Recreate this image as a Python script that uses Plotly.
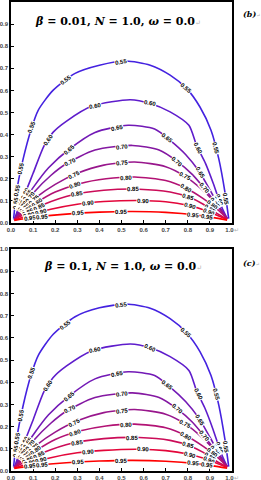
import math
import plotly.graph_objects as go

# ---------------- data ----------------
levels = [0.55, 0.60, 0.65, 0.70, 0.75, 0.80, 0.85, 0.90, 0.95]
level_text = ["0.55", "0.60", "0.65", "0.70", "0.75", "0.80", "0.85", "0.90", "0.95"]
tick_vals = [0.0, 0.1, 0.2, 0.3, 0.4, 0.5, 0.6, 0.7, 0.8, 0.9, 1.0]
tick_text = ["0.0", "0.1", "0.2", "0.3", "0.4", "0.5", "0.6", "0.7", "0.8", "0.9", "1.0"]
panel_titles = ["<i>β</i> = 0.01, <i>N</i> = 1.0, <i>ω</i> = 0.0",
                "<i>β</i> = 0.1, <i>N</i> = 1.0, <i>ω</i> = 0.0"]
panel_tags = ["(b)", "(c)"]

# panel (b): beta = 0.01
b55_x = [0.012, 0.025, 0.055, 0.09, 0.123, 0.19, 0.29, 0.40, 0.52, 0.63, 0.72, 0.795, 0.855, 0.905, 0.94, 0.968, 0.985]
b55_y = [0.02, 0.14, 0.29, 0.42, 0.51, 0.60, 0.677, 0.714, 0.733, 0.714, 0.669, 0.608, 0.525, 0.42, 0.291, 0.14, 0.02]
b60_x = [0.015, 0.04, 0.07, 0.10, 0.15, 0.19, 0.25, 0.37, 0.54, 0.63, 0.72, 0.805, 0.84, 0.88, 0.915, 0.95, 0.978]
b60_y = [0.015, 0.085, 0.15, 0.225, 0.35, 0.41, 0.46, 0.53, 0.558, 0.541, 0.503, 0.442, 0.35, 0.27, 0.18, 0.08, 0.02]
b65_x = [0.015, 0.05, 0.10, 0.17, 0.266, 0.38, 0.53, 0.65, 0.72, 0.79, 0.85, 0.90, 0.945, 0.978]
b65_y = [0.015, 0.085, 0.16, 0.25, 0.336, 0.41, 0.442, 0.425, 0.374, 0.31, 0.235, 0.15, 0.07, 0.02]
b70_x = [0.015, 0.05, 0.10, 0.18, 0.25, 0.38, 0.55, 0.67, 0.75, 0.82, 0.88, 0.93, 0.96, 0.978]
b70_y = [0.015, 0.07, 0.135, 0.215, 0.268, 0.33, 0.351, 0.33, 0.28, 0.22, 0.15, 0.085, 0.045, 0.02]
b75_x = [0.015, 0.06, 0.12, 0.20, 0.30, 0.42, 0.56, 0.70, 0.79, 0.86, 0.92, 0.955, 0.978]
b75_y = [0.015, 0.065, 0.12, 0.175, 0.225, 0.262, 0.276, 0.255, 0.21, 0.155, 0.095, 0.05, 0.02]
b80_x = [0.015, 0.06, 0.12, 0.20, 0.31, 0.43, 0.56, 0.70, 0.79, 0.87, 0.93, 0.96, 0.978]
b80_y = [0.015, 0.052, 0.095, 0.14, 0.178, 0.20, 0.208, 0.192, 0.158, 0.11, 0.065, 0.038, 0.02]
b85_x = [0.015, 0.07, 0.15, 0.28, 0.42, 0.58, 0.72, 0.81, 0.87, 0.93, 0.978]
b85_y = [0.015, 0.045, 0.085, 0.128, 0.148, 0.153, 0.14, 0.115, 0.085, 0.045, 0.018]
b90_x = [0.015, 0.08, 0.18, 0.30, 0.42, 0.58, 0.70, 0.80, 0.88, 0.94, 0.978]
b90_y = [0.013, 0.035, 0.062, 0.085, 0.097, 0.102, 0.096, 0.08, 0.057, 0.032, 0.016]
b95_x = [0.015, 0.10, 0.25, 0.40, 0.55, 0.70, 0.84, 0.93, 0.978]
b95_y = [0.012, 0.025, 0.04, 0.049, 0.052, 0.048, 0.036, 0.022, 0.013]

# panel (c): beta = 0.1
c55_x = [0.012, 0.025, 0.055, 0.09, 0.123, 0.19, 0.29, 0.40, 0.52, 0.63, 0.72, 0.795, 0.855, 0.905, 0.94, 0.968, 0.985]
c55_y = [0.02, 0.14, 0.295, 0.43, 0.52, 0.615, 0.695, 0.735, 0.752, 0.733, 0.686, 0.622, 0.538, 0.43, 0.298, 0.142, 0.02]
c60_x = [0.015, 0.04, 0.07, 0.10, 0.15, 0.19, 0.25, 0.37, 0.54, 0.63, 0.72, 0.805, 0.84, 0.88, 0.915, 0.95, 0.978]
c60_y = [0.015, 0.087, 0.154, 0.23, 0.36, 0.42, 0.472, 0.543, 0.572, 0.555, 0.515, 0.453, 0.36, 0.277, 0.185, 0.082, 0.02]
c65_x = [0.015, 0.05, 0.10, 0.17, 0.266, 0.38, 0.53, 0.65, 0.72, 0.79, 0.85, 0.90, 0.945, 0.978]
c65_y = [0.015, 0.086, 0.162, 0.253, 0.34, 0.415, 0.447, 0.43, 0.378, 0.313, 0.238, 0.152, 0.071, 0.02]
c70_x = [0.015, 0.05, 0.10, 0.18, 0.25, 0.38, 0.55, 0.67, 0.75, 0.82, 0.88, 0.93, 0.96, 0.978]
c70_y = [0.015, 0.07, 0.135, 0.215, 0.269, 0.331, 0.352, 0.331, 0.281, 0.221, 0.15, 0.085, 0.045, 0.02]
c75_x = [0.015, 0.06, 0.12, 0.20, 0.30, 0.42, 0.56, 0.70, 0.79, 0.86, 0.92, 0.955, 0.978]
c75_y = [0.015, 0.065, 0.12, 0.175, 0.226, 0.263, 0.277, 0.256, 0.211, 0.155, 0.095, 0.05, 0.02]
c80_x = [0.015, 0.06, 0.12, 0.20, 0.31, 0.43, 0.56, 0.70, 0.79, 0.87, 0.93, 0.96, 0.978]
c80_y = [0.015, 0.053, 0.096, 0.142, 0.18, 0.203, 0.211, 0.195, 0.16, 0.111, 0.066, 0.038, 0.02]
c85_x = [0.015, 0.07, 0.15, 0.28, 0.42, 0.58, 0.72, 0.81, 0.87, 0.93, 0.978]
c85_y = [0.015, 0.045, 0.084, 0.126, 0.146, 0.151, 0.138, 0.113, 0.084, 0.044, 0.018]
c90_x = [0.015, 0.08, 0.18, 0.30, 0.42, 0.58, 0.70, 0.80, 0.88, 0.94, 0.978]
c90_y = [0.013, 0.034, 0.06, 0.082, 0.093, 0.098, 0.092, 0.077, 0.055, 0.031, 0.016]
c95_x = [0.015, 0.10, 0.25, 0.40, 0.55, 0.70, 0.84, 0.93, 0.978]
c95_y = [0.012, 0.023, 0.037, 0.045, 0.048, 0.044, 0.033, 0.021, 0.012]

# ---------------- styles ----------------
line_colors = ["#4422e0", "#5e1ccc", "#7219b6", "#8418a2", "#98168c", "#b21274", "#cb0c58",
               "#e3063a", "#ff0000"]
label_fracs = [
    [0.12, 0.22, 0.36, 0.5, 0.67, 0.83],
    [0.25, 0.42, 0.58, 0.78],
    [0.3, 0.48, 0.66, 0.82],
    [0.3, 0.5, 0.72, 0.86],
    [0.3, 0.5, 0.76],
    [0.3, 0.52, 0.78],
    [0.3, 0.55, 0.8],
    [0.35, 0.6, 0.82],
    [0.3, 0.5, 0.84],
]
corner_px_left = [16, 28]
corner_px_right = [20]

W, H = 261, 480
ML, MR, MT, MB = 11, 29, 2, 9
PW, PH = W - ML - MR, H - MT - MB
panels_px = [(2, 223), (249, 471)]


def pdom(top, bot):
    return [(H - MB - bot) / PH, (H - MB - top) / PH]


curves = [
    [(b55_x, b55_y), (b60_x, b60_y), (b65_x, b65_y), (b70_x, b70_y), (b75_x, b75_y),
     (b80_x, b80_y), (b85_x, b85_y), (b90_x, b90_y), (b95_x, b95_y)],
    [(c55_x, c55_y), (c60_x, c60_y), (c65_x, c65_y), (c70_x, c70_y), (c75_x, c75_y),
     (c80_x, c80_y), (c85_x, c85_y), (c90_x, c90_y), (c95_x, c95_y)],
]

fig = go.Figure()
annotations = []


def point_at(xs, ys, dist, sx, sy):
    acc = 0.0
    n = len(xs)
    for i in range(n - 1):
        dx = (xs[i + 1] - xs[i]) * sx
        dy = (ys[i + 1] - ys[i]) * sy
        s = math.hypot(dx, dy)
        if acc + s >= dist or i == n - 2:
            t = (dist - acc) / s if s > 0 else 0
            t = min(max(t, 0), 1)
            x = xs[i] + t * (xs[i + 1] - xs[i])
            y = ys[i] + t * (ys[i + 1] - ys[i])
            ang = math.degrees(math.atan2(dy, dx))
            if ang > 90:
                ang -= 180
            if ang < -90:
                ang += 180
            return x, y, -ang
        acc += s


def arc_len(xs, ys, sx, sy):
    return sum(math.hypot((xs[i + 1] - xs[i]) * sx, (ys[i + 1] - ys[i]) * sy) for i in range(len(xs) - 1))


for p in range(2):
    xa = "x" if p == 0 else "x2"
    ya = "y" if p == 0 else "y2"
    top, bot = panels_px[p]
    sx, sy = PW, (bot - top)
    for k, (xs, ys) in enumerate(curves[p]):
        fig.add_trace(go.Scatter(x=xs, y=ys, mode="lines", xaxis=xa, yaxis=ya,
                                 line=dict(color=line_colors[k], width=1.6, shape="spline", smoothing=0.7),
                                 hoverinfo="skip", showlegend=False))
        L = arc_len(xs, ys, sx, sy)
        dists = [f * L for f in label_fracs[k]] + corner_px_left + [L - d for d in corner_px_right]
        for d in dists:
            x, y, a = point_at(xs, ys, d, sx, sy)
            annotations.append(dict(x=x, y=y, xref=xa, yref=ya, text="<b>%s</b>" % level_text[k],
                                    showarrow=False, textangle=a, bgcolor="white", borderpad=0,
                                    font=dict(family="Liberation Sans", size=6, color="black")))
    title_px = [22, 267][p]
    title_x = [118, 123][p]
    annotations.append(dict(x=(title_x - ML) / PW, y=(H - MB - title_px) / PH, xref="paper", yref="paper",
                            text="<b>%s</b><span style='color:#b0b0b0;font-size:7px'>↵</span>" % panel_titles[p],
                            showarrow=False, xanchor="center", yanchor="middle",
                            font=dict(family="DejaVu Serif", size=11, color="black")))
    tag_px = [14, 263][p]
    annotations.append(dict(x=(241 - ML) / PW, y=(H - MB - tag_px) / PH, xref="paper", yref="paper",
                            text="<b><i>%s</i></b><span style='color:#b0b0b0;font-size:5px'>↵</span>" % panel_tags[p],
                            showarrow=False, xanchor="left", yanchor="middle",
                            font=dict(family="DejaVu Serif", size=8, color="black")))

axis_common = dict(range=[0, 1], showline=True, mirror=True, linecolor="black", linewidth=1.5,
                   ticks="inside", ticklen=3, tickcolor="black", tickwidth=1, showgrid=False,
                   zeroline=False, tickvals=tick_vals, automargin=False,
                   tickfont=dict(family="Liberation Sans", size=6, color="#444"))
xt = ["<b>%s</b>" % t for t in tick_text]
xt[-1] = "<b>1.0</b><span style='color:#b0b0b0'>↵</span>"
yt = ["<b>%s</b>" % t for t in tick_text]

fig.update_layout(
    width=W, height=H, margin=dict(l=ML, r=MR, t=MT, b=MB, autoexpand=False),
    paper_bgcolor="white", plot_bgcolor="white",
    xaxis=dict(axis_common, domain=[0, 1], anchor="y", ticktext=xt),
    yaxis=dict(axis_common, domain=pdom(*panels_px[0]), anchor="x", ticktext=yt),
    xaxis2=dict(axis_common, domain=[0, 1], anchor="y2", ticktext=xt),
    yaxis2=dict(axis_common, domain=pdom(*panels_px[1]), anchor="x2", ticktext=yt),
    annotations=annotations,
)

fig.write_html("out.html", config={"displayModeBar": False},
               post_script="document.body.style.margin='0';document.body.style.padding='0';"
                           "document.documentElement.style.overflow='hidden';")
